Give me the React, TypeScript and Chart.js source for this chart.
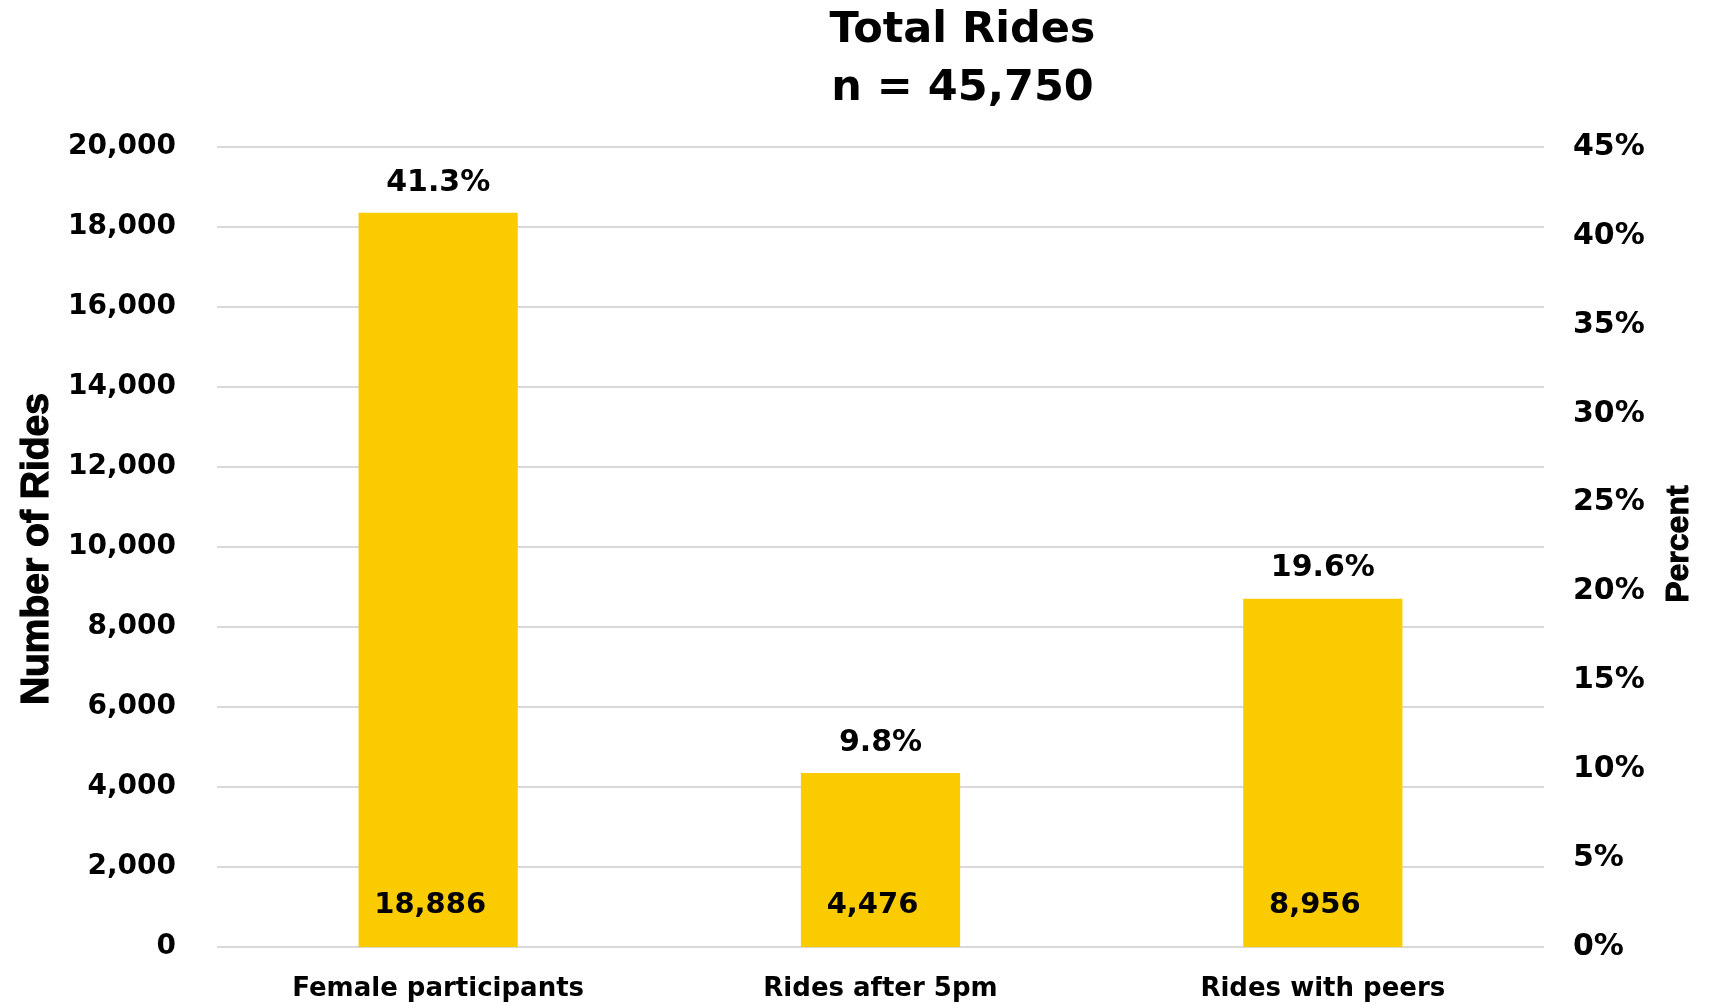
import React, { useEffect, useRef } from 'react';
import { Chart, registerables } from 'chart.js';

Chart.register(...registerables);

const categories = ['Female participants', 'Rides after 5pm', 'Rides with peers'];
const rideCounts = [18886, 4476, 8956];
const percentValues = [41.3, 9.8, 19.6];
const titleLines = ['Total Rides', 'n = 45,750'];
const countAxisRange = [0, 20000, 2000];
const percentAxisRange = [0, 45, 5];
const leftAxisTitle = 'Number of Rides';
const rightAxisTitle = 'Percent';

const BAR_COLOR = '#FACC00';
const GRID_COLOR = '#D9D9D9';
const FONT = '"DejaVu Sans", Verdana, sans-serif';
const ARIAL = '"Liberation Sans", Arial, sans-serif';

const decorPlugin = {
  id: 'decor',
  afterDatasetsDraw(chart: any) {
    const ctx = chart.ctx;
    const meta = chart.getDatasetMeta(0);
    ctx.save();
    ctx.fillStyle = '#000';
    ctx.textAlign = 'center';
    ctx.textBaseline = 'middle';
    meta.data.forEach((bar: any, i: number) => {
      ctx.font = `bold 30px ${FONT}`;
      ctx.fillText(percentValues[i].toFixed(1) + '%', bar.x, bar.y - 30);
      ctx.font = `bold 29px ${FONT}`;
      ctx.fillText(rideCounts[i].toLocaleString('en-US'), bar.x - 8, bar.base - 42);
    });
    ctx.restore();
  },
  afterDraw(chart: any) {
    const ctx = chart.ctx;
    const area = chart.chartArea;
    ctx.save();
    ctx.fillStyle = '#000';
    ctx.strokeStyle = '#000';
    ctx.textAlign = 'center';
    ctx.textBaseline = 'middle';
    // Title
    ctx.font = `bold 43px ${FONT}`;
    const tx = (area.left + area.right) / 2 + 82;
    ctx.fillText(titleLines[0], tx, 31);
    ctx.fillText(titleLines[1], tx, 89);
    // Left axis title
    ctx.save();
    ctx.translate(37, (area.top + area.bottom) / 2 + 2);
    ctx.rotate(-Math.PI / 2);
    ctx.font = `bold 39px ${ARIAL}`;
    ctx.lineWidth = 1.2;
    ctx.fillText(leftAxisTitle, 0, 0);
    ctx.strokeText(leftAxisTitle, 0, 0);
    ctx.restore();
    // Right axis title
    ctx.save();
    ctx.translate(chart.width - 30, (area.top + area.bottom) / 2 - 3);
    ctx.rotate(-Math.PI / 2);
    ctx.font = `bold 32px ${ARIAL}`;
    ctx.lineWidth = 1;
    ctx.fillText(rightAxisTitle, 0, 0);
    ctx.strokeText(rightAxisTitle, 0, 0);
    ctx.restore();
    ctx.restore();
  },
};

export default function App() {
  const canvasRef = useRef<HTMLCanvasElement | null>(null);

  useEffect(() => {
    if (!canvasRef.current) return;
    const chart = new Chart(canvasRef.current, {
      type: 'bar',
      data: {
        labels: categories,
        datasets: [
          {
            label: 'Percent',
            data: percentValues,
            yAxisID: 'y1',
            backgroundColor: BAR_COLOR,
            borderWidth: 0,
            barPercentage: 0.36,
            categoryPercentage: 1.0,
          },
        ],
      },
      options: {
        responsive: false,
        animation: false,
        layout: { padding: { top: 147, left: 0, right: 0, bottom: 0 } },
        plugins: {
          legend: { display: false },
          title: { display: false },
          tooltip: { enabled: false },
        },
        scales: {
          x: {
            grid: { display: false, drawTicks: false },
            border: { display: false },
            ticks: {
              color: '#000',
              padding: 26,
              font: { family: FONT, size: 26, weight: 'bold' },
            },
            afterFit: (s: any) => {
              s.height = 57;
            },
          },
          y: {
            position: 'left',
            min: countAxisRange[0],
            max: countAxisRange[1],
            grid: { color: GRID_COLOR, lineWidth: 2, drawTicks: false },
            border: { display: false },
            ticks: {
              stepSize: countAxisRange[2],
              color: '#000',
              padding: 41,
              font: { family: FONT, size: 28, weight: 'bold' },
              callback: (v: any) => Number(v).toLocaleString('en-US'),
            },
            afterFit: (s: any) => {
              s.width = 217;
            },
          },
          y1: {
            position: 'right',
            min: percentAxisRange[0],
            max: percentAxisRange[1],
            grid: { display: false, drawTicks: false },
            border: { display: false },
            ticks: {
              stepSize: percentAxisRange[2],
              color: '#000',
              padding: 29,
              font: { family: FONT, size: 30, weight: 'bold' },
              callback: (v: any) => v + '%',
            },
            afterFit: (s: any) => {
              s.width = 165;
            },
          },
        },
      },
      plugins: [decorPlugin],
    } as any);
    return () => chart.destroy();
  }, []);

  return (
    <div style={{ position: 'fixed', left: 0, top: 0, width: 1709, height: 1005, background: '#fff' }}>
      <canvas ref={canvasRef} width={1709} height={1005} style={{ width: 1709, height: 1005 }} />
    </div>
  );
}
